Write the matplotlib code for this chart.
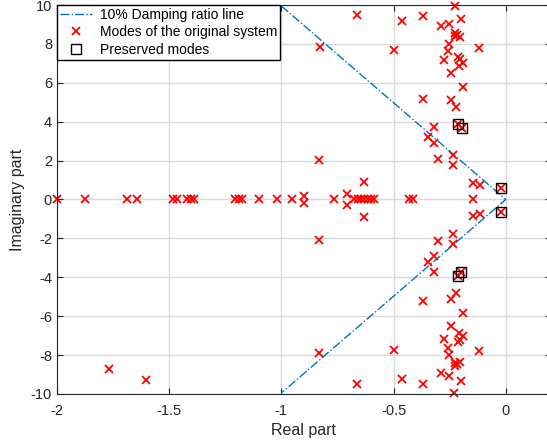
import matplotlib
matplotlib.use('Agg')
from matplotlib import pyplot as plt
import numpy as np

plt.rcParams['font.family'] = ['Liberation Sans', 'DejaVu Sans']

# modes on the real axis
re_real = [-2.0, -1.874, -1.686, -1.641, -1.481, -1.463, -1.421, -1.403, -1.388,
           -1.206, -1.19, -1.176, -1.100, -1.017, -0.952, -0.765,
           -0.675, -0.66, -0.645, -0.63, -0.615, -0.60, -0.585,
           -0.429, -0.412, -0.147]
im_real = [0.0] * len(re_real)

# oscillatory modes, upper half plane
re_up = [-0.832, -0.631, -0.708, -0.898, -0.147, -0.114, -0.022,
         -0.233, -0.233, -0.303, -0.318, -0.345, -0.319, -0.211, -0.196,
         -0.221, -0.244, -0.367, -0.192, -0.244,
         -0.207, -0.192, -0.204, -0.214, -0.273,
         -0.119, -0.258, -0.251, -0.50, -0.827,
         -0.226, -0.218, -0.204, -0.228,
         -0.29, -0.253, -0.46, -0.199, -0.367, -0.664, -0.228,
         -1.766, -1.604]
im_up = [2.05, 0.90, 0.28, 0.17, 0.83, 0.75, 0.60,
         1.78, 2.28, 2.08, 2.89, 3.20, 3.72, 3.88, 3.66,
         4.77, 5.12, 5.17, 5.77, 6.52,
         6.85, 7.04, 7.21, 7.31, 7.17,
         7.77, 7.65, 7.98, 7.70, 7.85,
         8.55, 8.46, 8.38, 8.40,
         8.90, 9.02, 9.18, 9.28, 9.45, 9.47, 9.96,
         8.71, 9.30]

# oscillatory modes, lower half plane
re_lo = [-0.832, -0.631, -0.708, -0.898, -0.147, -0.114, -0.022,
         -0.233, -0.233, -0.303, -0.318, -0.345, -0.319, -0.211, -0.199,
         -0.220, -0.244, -0.367, -0.192, -0.244,
         -0.207, -0.192, -0.204, -0.214, -0.273,
         -0.119, -0.258, -0.251, -0.50, -0.832,
         -0.226, -0.218, -0.204, -0.228,
         -0.29, -0.253, -0.46, -0.199, -0.367, -0.664, -0.23,
         -1.766, -1.604]
im_lo = [-2.08, -0.92, -0.28, -0.20, -0.85, -0.75, -0.63,
         -1.79, -2.30, -2.12, -2.90, -3.20, -3.74, -3.93, -3.71,
         -4.79, -5.12, -5.20, -5.82, -6.52,
         -6.85, -7.04, -7.21, -7.31, -7.17,
         -7.79, -7.65, -7.98, -7.74, -7.88,
         -8.55, -8.46, -8.38, -8.40,
         -8.93, -9.08, -9.23, -9.33, -9.49, -9.49, -9.97,
         -8.71, -9.30]

# preserved modes
re_keep = [-0.211, -0.196, -0.022, -0.022, -0.211, -0.199]
im_keep = [3.88, 3.66, 0.60, -0.63, -3.93, -3.71]

# 10% damping ratio line
re_damp = [-1.0, 0.0, -1.0]
im_damp = [9.95, 0.0, -9.95]

fig = plt.figure(figsize=(5.47, 4.47), dpi=100)
ax = fig.add_axes([0.104, 0.1186, 0.9026, 0.8702])

ax.plot(re_damp, im_damp, linestyle='-.', color=(0, 0.447, 0.741), lw=1,
        label='10% Damping ratio line')
ax.plot(re_real + re_up + re_lo, im_real + im_up + im_lo, 'x', color='red',
        ms=6, mew=1.3, label='Modes of the original system', clip_on=False)
ax.plot(re_keep, im_keep, 's', mfc='none', mec='black', ms=7, mew=1,
        label='Preserved modes')

ax.set_xlim(-2, 0.2)
ax.set_ylim(-10, 10)
ax.set_xticks([-2, -1.5, -1, -0.5, 0])
ax.set_xticklabels(['-2', '-1.5', '-1', '-0.5', '0'])
ax.set_yticks(np.arange(-10, 11, 2))
ax.set_yticklabels([str(v) for v in range(-10, 11, 2)])
ax.grid(True, color='#d9d9d9', lw=1)
ax.set_axisbelow(True)
ax.tick_params(direction='in', length=4, labelsize=10.5, colors='#262626',
               top=True, right=True)
ax.tick_params(axis='x', pad=7)
for s in ax.spines.values():
    s.set_color('#262626')
ax.set_xlabel('Real part', fontsize=11.5, color='#262626', labelpad=4)
ax.set_ylabel('Imaginary part', fontsize=11.5, color='#262626', labelpad=4)

leg = ax.legend(loc='upper left', borderaxespad=0, fontsize=10, fancybox=False,
                framealpha=1, edgecolor='black', handlelength=2.3,
                handletextpad=0.6, borderpad=0.2, labelspacing=0.25)
leg.get_frame().set_linewidth(1)
leg.set_zorder(5)

plt.savefig('out.png', dpi=100)
plt.close()
